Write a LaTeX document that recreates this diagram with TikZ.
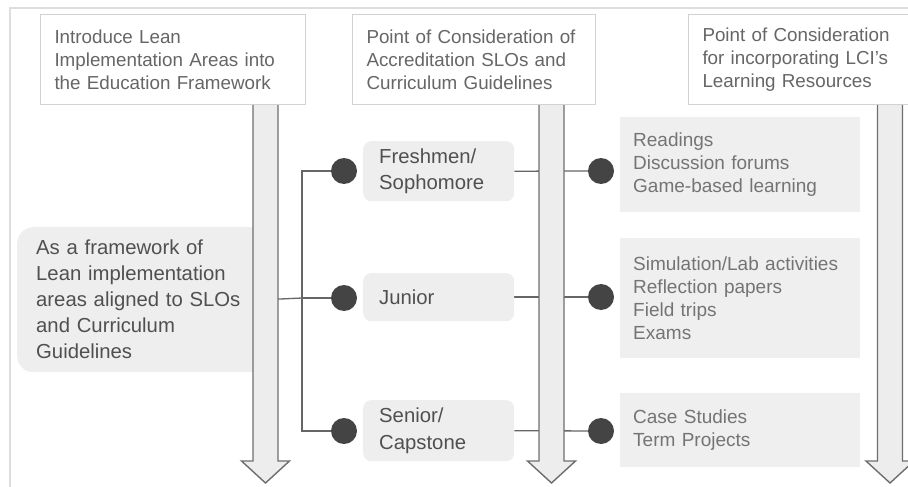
\documentclass[tikz,border=0pt]{standalone}
\usepackage{fontspec}
\setmainfont{Liberation Sans}
\definecolor{hdrline}{HTML}{D2D2D2}
\definecolor{hdrtext}{HTML}{666666}
\definecolor{boxfill}{HTML}{EEEEEE}
\definecolor{resfill}{HTML}{EFEFEF}
\definecolor{darktext}{HTML}{505050}
\definecolor{restext}{HTML}{747474}
\definecolor{arrfill}{HTML}{EDEDED}
\definecolor{arrline}{HTML}{6E6E6E}
\definecolor{connline}{HTML}{666666}
\definecolor{dotfill}{HTML}{444444}
\definecolor{framecol}{HTML}{DDDDDD}
\pgfdeclarelayer{back}
\pgfdeclarelayer{mid}
\pgfsetlayers{back,mid,main}
\begin{document}
\begin{tikzpicture}[x=1pt,y=-1pt,
  hdr/.style={draw=hdrline, line width=1pt, fill=white, align=left, text=hdrtext,
    font=\fontsize{18.8}{23}\selectfont, anchor=north west, inner xsep=14pt,
    text width=#1, minimum height=90pt},
  leftbox/.style={fill=boxfill, rounded corners=16pt, align=left, text=darktext,
    font=\fontsize{20.3}{26}\selectfont, anchor=north west, inner xsep=19pt,
    text width=210pt, minimum height=145pt},
  lvl/.style={fill=boxfill, rounded corners=8pt, align=left, text=darktext,
    font=\fontsize{20.3}{26.5}\selectfont, anchor=north west, inner xsep=16pt,
    text width=119pt},
  res/.style={fill=resfill, align=left, text=restext,
    font=\fontsize{19}{23}\selectfont, anchor=north west, inner xsep=13pt,
    text width=214pt},
  dot/.style={circle, fill=dotfill, minimum size=26pt, inner sep=0pt},
  conn/.style={draw=connline, line width=1.3pt},
  arr/.style={draw=arrline, fill=arrfill, line width=1.4pt, line join=miter},
  downarr/.pic={\path[arr] (-12.5,0) -- (-12.5,357) -- (-24,357) -- (0,379) -- (24,357) -- (12.5,357) -- (12.5,0) -- cycle;}
]
\useasboundingbox (0,0) rectangle (908,487);
% outer frame
\draw[framecol, line width=2pt] (10,487) -- (10,8) -- (912,8);

% header boxes
\node[hdr=237pt, minimum width=265pt] (h1) at (40,14) {Introduce Lean\\Implementation Areas into\\the Education Framework};
\node[hdr=215pt, minimum width=243pt] (h2) at (352,14) {Point of Consideration of\\Accreditation SLOs and\\Curriculum Guidelines};
\node[hdr=220pt, minimum width=248pt] (h3) at (688,14) {Point of Consideration\\for incorporating LCI's\\Learning Resources};

% left framework box (behind the first arrow)
\begin{pgfonlayer}{back}
\node[leftbox, minimum width=248pt] (lb) at (17,227) {As a framework of\\Lean implementation\\areas aligned to SLOs\\and Curriculum\\Guidelines};
\end{pgfonlayer}

% level boxes
\node[lvl, minimum width=151pt, minimum height=60pt] (l1) at (363,141) {Freshmen/\\Sophomore};
\node[lvl, minimum width=151pt, minimum height=48pt] (l2) at (363,273) {Junior};
\node[lvl, minimum width=151pt, minimum height=61pt] (l3) at (363,400) {Senior/\\Capstone};

% resource boxes
\node[res, minimum width=240pt, minimum height=95pt] (r1) at (620,117) {Readings\\Discussion forums\\Game-based learning};
\node[res, minimum width=240pt, minimum height=120pt] (r2) at (620,238) {Simulation/Lab activities\\Reflection papers\\Field trips\\Exams};
\node[res, minimum width=240pt, minimum height=74pt] (r3) at (620,393) {Case Studies\\Term Projects};

% dots
\coordinate (hub) at (302,298);
\node[dot] (d1) at (344,171) {};
\node[dot] (d2) at (344,298) {};
\node[dot] (d3) at (344,431) {};
\node[dot] (e1) at (601,171) {};
\node[dot] (e2) at (601,297) {};
\node[dot] (e3) at (601,431) {};

% connectors and block arrows (under the dots)
\begin{pgfonlayer}{mid}
\draw[conn] (lb.east) -- (hub);
\draw[conn] (d1.center) -| (hub);
\draw[conn] (d3.center) -| (hub);
\draw[conn] (d2.center) -- (hub);
\draw[conn] (l1.east) -- (e1.center);
\draw[conn] (l2.east |- e2) -- (e2.center);
\draw[conn] (l3.east) -- (e3.center);
\pic at (265.5,104) {downarr};
\pic at (551.5,104) {downarr};
\pic at (890,104) {downarr};
\end{pgfonlayer}
\end{tikzpicture}
\end{document}
